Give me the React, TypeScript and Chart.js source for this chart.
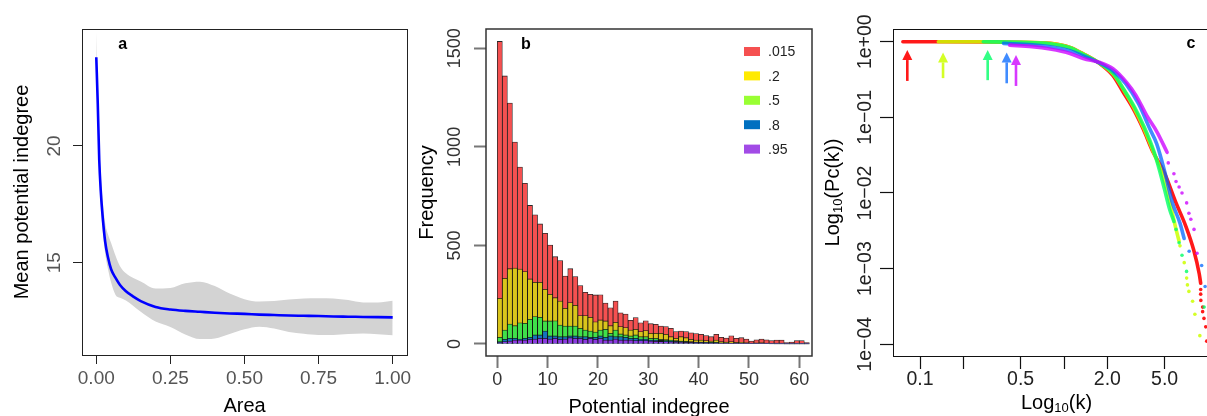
import React, { useEffect, useRef } from "react";
import { Chart, registerables } from "chart.js";

Chart.register(...registerables);

const FONT = "'Liberation Sans', Arial, Helvetica, sans-serif";
Chart.defaults.font.family = FONT;

// ---------- a: mean potential indegree against area ----------
const AREA_X = [0, 0.005, 0.01, 0.015, 0.02, 0.03, 0.04, 0.05, 0.065, 0.08, 0.1, 0.125, 0.15, 0.2, 0.25, 0.3, 0.35, 0.4, 0.45, 0.5, 0.55, 0.6, 0.65, 0.7, 0.75, 0.8, 0.85, 0.9, 0.95, 1.0];
const AREA_MEAN = [23.8, 21.8, 19.4, 18.1, 17.2, 15.9, 15.2, 14.72, 14.35, 14.05, 13.78, 13.55, 13.36, 13.11, 13.0, 12.94, 12.9, 12.86, 12.83, 12.81, 12.78, 12.76, 12.74, 12.73, 12.72, 12.7, 12.69, 12.68, 12.67, 12.66];
const AREA_UPPER = [24.9, 22.6, 20.1, 18.8, 17.9, 16.7, 16.2, 15.85, 15.3, 14.85, 14.55, 14.35, 14.2, 13.9, 13.92, 14.12, 14.19, 14.0, 13.68, 13.44, 13.34, 13.36, 13.43, 13.47, 13.48, 13.47, 13.4, 13.3, 13.3, 13.37];
const AREA_LOWER = [23.5, 21.1, 18.9, 17.5, 16.6, 15.4, 14.7, 14.15, 13.62, 13.5, 13.38, 13.15, 12.9, 12.48, 12.25, 11.93, 11.73, 11.76, 11.95, 12.15, 12.26, 12.18, 12.04, 11.96, 11.91, 11.91, 11.95, 11.97, 11.94, 11.9];
const AREA_X_TICKS = [0, 0.25, 0.5, 0.75, 1];
const AREA_Y_TICKS = [15, 20];

// ---------- b: histograms of potential indegree ----------
const INDEGREE_BINS = [0, 1, 2, 3, 4, 5, 6, 7, 8, 9, 10, 11, 12, 13, 14, 15, 16, 17, 18, 19, 20, 21, 22, 23, 24, 25, 26, 27, 28, 29, 30, 31, 32, 33, 34, 35, 36, 37, 38, 39, 40, 41, 42, 43, 44, 45, 46, 47, 48, 49, 50, 51, 52, 53, 54, 55, 56, 57, 58, 59, 60, 61];
const HIST_LABELS = [".015", ".2", ".5", ".8", ".95"];
const HIST_015 = [1535, 1360, 1222, 1024, 898, 815, 703, 655, 609, 562, 502, 443, 423, 345, 382, 342, 296, 262, 252, 249, 250, 208, 184, 218, 158, 152, 120, 134, 108, 118, 103, 100, 91, 88, 80, 63, 66, 63, 57, 53, 49, 43, 37, 49, 34, 30, 42, 29, 32, 25, 15, 21, 25, 21, 17, 20, 20, 7, 10, 17, 17, 7];
const HIST_02 = [232, 333, 382, 385, 380, 367, 330, 313, 313, 277, 252, 235, 218, 181, 210, 196, 144, 144, 135, 113, 122, 117, 93, 110, 88, 83, 71, 75, 63, 68, 54, 54, 54, 49, 37, 29, 37, 32, 24, 20, 20, 17, 15, 20, 12, 10, 12, 8, 9, 7, 5, 6, 7, 5, 4, 5, 5, 2, 3, 4, 4, 2];
const HIST_05 = [34, 71, 101, 93, 108, 105, 125, 139, 135, 117, 117, 118, 96, 91, 91, 91, 80, 71, 66, 61, 71, 75, 54, 71, 51, 46, 41, 46, 37, 37, 29, 29, 24, 22, 20, 17, 15, 14, 12, 10, 10, 9, 8, 8, 6, 6, 5, 5, 4, 4, 3, 3, 3, 2, 2, 2, 2, 1, 1, 1, 1, 1];
const HIST_08 = [12, 24, 29, 29, 25, 29, 34, 46, 46, 66, 41, 41, 37, 37, 41, 41, 37, 37, 34, 34, 41, 34, 41, 37, 37, 34, 29, 29, 25, 25, 20, 20, 18, 17, 15, 14, 12, 11, 10, 9, 8, 7, 6, 6, 5, 5, 4, 4, 3, 3, 3, 2, 2, 2, 2, 1, 1, 1, 1, 1, 1, 1];
const HIST_095 = [7, 12, 15, 20, 20, 20, 24, 25, 29, 29, 25, 29, 24, 25, 32, 29, 29, 24, 29, 24, 29, 20, 20, 25, 20, 20, 20, 17, 17, 17, 15, 14, 13, 12, 11, 10, 9, 8, 8, 7, 6, 6, 5, 5, 4, 4, 3, 3, 3, 2, 2, 2, 2, 2, 1, 1, 1, 1, 1, 1, 1, 1];
const HIST_SERIES = [HIST_015, HIST_02, HIST_05, HIST_08, HIST_095];
const HIST_BAR_COLORS = ["#F55050", "#D9C51B", "#3FE04A", "#1573BD", "#8C3AE0"];
const HIST_LEGEND_COLORS = ["#F55050", "#FFEA00", "#99FF33", "#0070C0", "#A24BE6"];
const HIST_X_TICKS = [0, 10, 20, 30, 40, 50, 60];
const HIST_Y_TICKS = [0, 500, 1000, 1500];

// ---------- c: cumulative distributions Pc(k), [k, Pc] ----------
const CCDF_015 = [[0.076, 1.0], [0.123, 1.0], [0.3, 0.995], [0.5, 0.98], [0.8, 0.95], [1.1, 0.84], [1.36, 0.69], [1.78, 0.51], [2.19, 0.356], [2.58, 0.214], [3.03, 0.129], [3.55, 0.07], [4.16, 0.0345], [4.95, 0.019], [6.0, 0.0074], [7.03, 0.0036], [7.96, 0.00176], [8.7, 0.00085], [8.9, 0.00064]];
const CCDF_015_TAIL = [[8.9, 0.00053], [8.9, 0.00046], [8.92, 0.00038], [9.18, 0.00031], [9.18, 0.00027], [9.38, 0.00022], [9.65, 0.00017], [9.8, 0.00011]];
const CCDF_02 = [[0.134, 1.0], [0.26, 1.0], [0.5, 0.985], [0.8, 0.95], [1.1, 0.84], [1.36, 0.69], [1.78, 0.515], [2.2, 0.37], [2.6, 0.23], [3.05, 0.135], [3.6, 0.07], [4.2, 0.034], [4.7, 0.0202], [5.17, 0.0109], [5.59, 0.006], [5.98, 0.0034], [6.3, 0.0023]];
const CCDF_02_TAIL = [[6.39, 0.002], [6.84, 0.0012], [7.11, 0.00075], [7.2, 0.00061], [7.37, 0.0005], [7.82, 0.00037], [8.11, 0.00025], [8.78, 0.00013]];
const CCDF_05 = [[0.275, 1.0], [0.5, 0.98], [0.8, 0.94], [1.1, 0.83], [1.36, 0.68], [1.78, 0.515], [2.2, 0.38], [2.6, 0.235], [3.1, 0.135], [3.6, 0.075], [4.2, 0.036], [4.6, 0.0202], [5.0, 0.011], [5.4, 0.0062], [5.8, 0.0042]];
const CCDF_05_TAIL = [[6.0, 0.0033], [6.3, 0.0022], [6.6, 0.0015], [7.1, 0.00092], [9.4, 0.00031]];
const CCDF_08 = [[0.38, 0.95], [0.6, 0.91], [0.8, 0.86], [1.1, 0.76], [1.36, 0.65], [1.78, 0.52], [2.2, 0.41], [2.7, 0.275], [3.3, 0.15], [3.95, 0.07], [4.4, 0.045], [4.97, 0.0202], [5.66, 0.0074], [6.39, 0.004], [6.83, 0.0025]];
const CCDF_08_TAIL = [[7.4, 0.0017], [9.04, 0.0011], [9.55, 0.00058]];
const CCDF_095 = [[0.42, 0.9], [0.6, 0.86], [0.8, 0.8], [1.1, 0.7], [1.36, 0.6], [1.78, 0.53], [2.19, 0.44], [2.72, 0.29], [3.17, 0.194], [3.76, 0.105], [4.43, 0.064], [5.2, 0.0345]];
const CCDF_095_TAIL = [[5.3, 0.025], [5.8, 0.018], [6.0, 0.0142], [6.3, 0.012], [6.6, 0.01], [7.11, 0.0074], [7.37, 0.0054], [7.6, 0.0045], [8.0, 0.0033], [8.4, 0.0016]];
const CCDF_BODIES = [CCDF_015, CCDF_02, CCDF_05, CCDF_08, CCDF_095];
const CCDF_TAILS = [CCDF_015_TAIL, CCDF_02_TAIL, CCDF_05_TAIL, CCDF_08_TAIL, CCDF_095_TAIL];
const CCDF_COLORS = ["rgba(255,0,0,0.9)", "rgba(204,255,0,0.85)", "rgba(0,255,102,0.8)", "rgba(0,102,255,0.75)", "rgba(204,0,255,0.78)"];
// smallest k of each series, marked by an arrow
const ARROW_K = [0.0816, 0.1445, 0.295, 0.4, 0.464];
const ARROW_TIP = [0.776, 0.72, 0.776, 0.72, 0.667];
const ARROW_BASE = [0.303, 0.33, 0.31, 0.282, 0.26];
const LOGK_TICKS = [0.1, 0.2, 0.5, 1, 2, 5];
const LOGK_TICK_LABELS = ["0.1", "", "0.5", "", "2.0", "5.0"];
const LOGP_TICKS = [1, 0.1, 0.01, 0.001, 0.0001];
const LOGP_TICK_LABELS = ["1e+00", "1e\u221201", "1e\u221202", "1e\u221203", "1e\u221204"];

// ---------- shared drawing helpers ----------
const frame = (color: string, width: number) => ({
  id: "frame",
  afterDraw(chart: any) {
    const { ctx, chartArea } = chart;
    const off = width === 1 ? 0.5 : 0;
    ctx.save();
    ctx.strokeStyle = color;
    ctx.lineWidth = width;
    ctx.strokeRect(
      Math.round(chartArea.left) + off,
      Math.round(chartArea.top) + off,
      Math.round(chartArea.right - chartArea.left),
      Math.round(chartArea.bottom - chartArea.top)
    );
    ctx.restore();
  },
});

const panelTag = (text: string, x: number, y: number) => ({
  id: "panelTag",
  afterDraw(chart: any) {
    const { ctx } = chart;
    ctx.save();
    ctx.font = `bold 16px ${FONT}`;
    ctx.fillStyle = "#000";
    ctx.textAlign = "center";
    ctx.textBaseline = "middle";
    ctx.fillText(text, x, y);
    ctx.restore();
  },
});

const fixedTicks = (values: number[]) => (scale: any) => {
  scale.ticks = values.map((value) => ({ value }));
};

const plainNumber = (v: any) => String(v);

function buildAreaChart() {
  const pts = (ys: number[]) => AREA_X.map((x, i) => ({ x, y: ys[i] }));
  return {
    type: "line",
    data: {
      datasets: [
        { data: pts(AREA_MEAN), borderColor: "#0000FF", borderWidth: 2.6, pointRadius: 0, fill: false, cubicInterpolationMode: "monotone" },
        { data: pts(AREA_UPPER), borderWidth: 0, borderColor: "rgba(0,0,0,0)", pointRadius: 0, fill: "+1", backgroundColor: "#D3D3D3", cubicInterpolationMode: "monotone" },
        { data: pts(AREA_LOWER), borderWidth: 0, borderColor: "rgba(0,0,0,0)", pointRadius: 0, fill: false, cubicInterpolationMode: "monotone" },
      ],
    },
    options: {
      animation: false,
      responsive: false,
      devicePixelRatio: 1,
      layout: { padding: { left: 0, top: 29, right: 23, bottom: 0 } },
      plugins: { legend: { display: false }, tooltip: { enabled: false } },
      scales: {
        x: {
          type: "linear",
          bounds: "data",
          min: -0.0482,
          max: 1.0483,
          afterBuildTicks: fixedTicks(AREA_X_TICKS),
          afterFit: (s: any) => { s.height = 61; },
          grid: { drawOnChartArea: false, tickLength: 9, tickColor: "#222", tickWidth: 1 },
          border: { display: false },
          ticks: { autoSkip: false, maxRotation: 0, padding: 3, color: "#555", font: { size: 19 }, callback: (v: any) => Number(v).toFixed(2) },
          title: { display: true, text: "Area", color: "#000", font: { size: 20, lineHeight: 1 }, padding: { top: 0, bottom: 0 } },
        },
        y: {
          type: "linear",
          bounds: "data",
          min: 11.05,
          max: 25.01,
          afterBuildTicks: fixedTicks(AREA_Y_TICKS),
          afterFit: (s: any) => { s.width = 82; },
          grid: { drawOnChartArea: false, tickLength: 9, tickColor: "#222", tickWidth: 1 },
          border: { display: false },
          ticks: { autoSkip: false, minRotation: 90, maxRotation: 90, crossAlign: "center", padding: 8, color: "#555", font: { size: 19 }, callback: plainNumber },
          title: { display: true, text: "Mean potential indegree", color: "#000", font: { size: 20 }, padding: { top: 10, bottom: 0 } },
        },
      },
    },
    plugins: [frame("#222", 1), panelTag("a", 122.7, 44.4)],
  };
}

const histLegend = {
  id: "histLegend",
  afterDraw(chart: any) {
    const { ctx } = chart;
    ctx.save();
    ctx.font = `14px ${FONT}`;
    ctx.textAlign = "left";
    ctx.textBaseline = "middle";
    HIST_LABELS.forEach((label, i) => {
      const y = 51.5 + i * 24.4;
      ctx.fillStyle = HIST_LEGEND_COLORS[i];
      ctx.fillRect(334, y - 4.5, 16, 9);
      ctx.fillStyle = "#222";
      ctx.fillText(label, 358, y + 1);
    });
    ctx.restore();
  },
};

function buildHistChart() {
  return {
    type: "bar",
    data: {
      datasets: HIST_SERIES.map((vals, i) => ({
        label: HIST_LABELS[i],
        data: INDEGREE_BINS.map((b, j) => ({ x: b + 0.5, y: vals[j] })),
        backgroundColor: HIST_BAR_COLORS[i],
        borderColor: "rgba(15,15,15,0.9)",
        borderWidth: 0.8,
        barPercentage: 1,
        categoryPercentage: 1,
        grouped: false,
        order: HIST_SERIES.length - 1 - i,
      })),
    },
    options: {
      animation: false,
      responsive: false,
      devicePixelRatio: 1,
      layout: { padding: { left: 0, top: 29, right: 8, bottom: 0 } },
      plugins: { legend: { display: false }, tooltip: { enabled: false } },
      scales: {
        x: {
          type: "linear",
          bounds: "data",
          offset: false,
          min: -2.245,
          max: 62.53,
          afterBuildTicks: fixedTicks(HIST_X_TICKS),
          afterFit: (s: any) => { s.height = 60; },
          grid: { offset: false, drawOnChartArea: false, tickLength: 12, tickColor: "#777", tickWidth: 2 },
          border: { display: false },
          ticks: { autoSkip: false, maxRotation: 0, padding: 1.2, color: "#333", font: { size: 18 }, callback: plainNumber },
          title: { display: true, text: "Potential indegree", color: "#000", font: { size: 20, lineHeight: 1 }, padding: { top: 0, bottom: -1 } },
        },
        y: {
          type: "linear",
          bounds: "data",
          min: -60.9,
          max: 1598,
          afterBuildTicks: fixedTicks(HIST_Y_TICKS),
          afterFit: (s: any) => { s.width = 76; },
          grid: { drawOnChartArea: false, tickLength: 12, tickColor: "#777", tickWidth: 2 },
          border: { display: false },
          ticks: { autoSkip: false, minRotation: 90, maxRotation: 90, crossAlign: "center", padding: -1, color: "#333", font: { size: 18 }, callback: plainNumber },
          title: { display: true, text: "Frequency", color: "#000", font: { size: 20 }, padding: { top: 5, bottom: 0 } },
        },
      },
    },
    plugins: [frame("#333", 1.5), panelTag("b", 116, 45), histLegend],
  };
}

// "Log" + subscript "10" + rest, centred on (cx, baseline)
function drawLogTitle(ctx: any, rest: string, cx: number, baseline: number, vertical: boolean) {
  ctx.save();
  ctx.translate(cx, baseline);
  if (vertical) ctx.rotate(-Math.PI / 2);
  ctx.fillStyle = "#000";
  ctx.textAlign = "left";
  ctx.textBaseline = "alphabetic";
  const main = `20px ${FONT}`;
  const small = `13px ${FONT}`;
  ctx.font = main;
  const w1 = ctx.measureText("Log").width;
  const w3 = ctx.measureText(rest).width;
  ctx.font = small;
  const w2 = ctx.measureText("10").width;
  const x0 = -(w1 + w2 + w3) / 2;
  ctx.font = main;
  ctx.fillText("Log", x0, 0);
  ctx.font = small;
  ctx.fillText("10", x0 + w1, 3);
  ctx.font = main;
  ctx.fillText(rest, x0 + w1 + w2, 0);
  ctx.restore();
}

const ccdfTitles = {
  id: "ccdfTitles",
  afterDraw(chart: any) {
    const { ctx, chartArea } = chart;
    drawLogTitle(ctx, "(k)", (chartArea.left + chartArea.right) / 2, 409.3, false);
    drawLogTitle(ctx, "(Pc(k))", 19.1, (chartArea.top + chartArea.bottom) / 2, true);
  },
};

const ccdfArrows = {
  id: "ccdfArrows",
  afterDatasetsDraw(chart: any) {
    const { ctx, scales } = chart;
    ctx.save();
    ARROW_K.forEach((k, i) => {
      const px = scales.x.getPixelForValue(k);
      const tip = scales.y.getPixelForValue(ARROW_TIP[i]);
      const base = scales.y.getPixelForValue(ARROW_BASE[i]);
      const head = 10;
      ctx.strokeStyle = CCDF_COLORS[i];
      ctx.fillStyle = CCDF_COLORS[i];
      ctx.lineWidth = 2.6;
      ctx.beginPath();
      ctx.moveTo(px, base);
      ctx.lineTo(px, tip + head);
      ctx.stroke();
      ctx.beginPath();
      ctx.moveTo(px, tip);
      ctx.lineTo(px - 5, tip + head);
      ctx.lineTo(px + 5, tip + head);
      ctx.closePath();
      ctx.fill();
    });
    ctx.restore();
  },
};

function buildCcdfChart() {
  const datasets: any[] = [];
  CCDF_BODIES.forEach((body, i) => {
    const order = 10 - i * 2;
    datasets.push({
      data: body.map(([x, y]) => ({ x, y })),
      showLine: true,
      borderColor: CCDF_COLORS[i],
      borderWidth: 3.6,
      borderCapStyle: "round",
      borderJoinStyle: "round",
      pointRadius: 0,
      cubicInterpolationMode: "monotone",
      order,
    });
    datasets.push({
      data: CCDF_TAILS[i].map(([x, y]) => ({ x, y })),
      showLine: false,
      pointRadius: 1.8,
      pointBorderWidth: 0,
      pointBackgroundColor: CCDF_COLORS[i],
      order,
    });
  });
  return {
    type: "scatter",
    data: { datasets },
    options: {
      animation: false,
      responsive: false,
      devicePixelRatio: 1,
      layout: { padding: { left: 0, top: 29, right: 20, bottom: 0 } },
      plugins: { legend: { display: false }, tooltip: { enabled: false } },
      scales: {
        x: {
          type: "logarithmic",
          bounds: "data",
          min: 0.0649,
          max: 12.12,
          afterBuildTicks: fixedTicks(LOGK_TICKS),
          afterFit: (s: any) => { s.height = 60; },
          grid: { drawOnChartArea: false, tickLength: 13, tickColor: "#111", tickWidth: 1.2 },
          border: { display: false },
          ticks: { autoSkip: false, maxRotation: 0, padding: -0.7, color: "#222", font: { size: 19.5 }, callback: (_v: any, i: number) => LOGK_TICK_LABELS[i] },
        },
        y: {
          type: "logarithmic",
          bounds: "data",
          min: 0.00007,
          max: 1.472,
          afterBuildTicks: fixedTicks(LOGP_TICKS),
          afterFit: (s: any) => { s.width = 73; },
          grid: { drawOnChartArea: false, tickLength: 13, tickColor: "#111", tickWidth: 1.2 },
          border: { display: false },
          ticks: { autoSkip: false, minRotation: 90, maxRotation: 90, crossAlign: "center", padding: -13.4, color: "#222", font: { size: 19.5 }, callback: (_v: any, i: number) => LOGP_TICK_LABELS[i] },
        },
      },
    },
    plugins: [frame("#111", 1), panelTag("c", 371, 43.3), ccdfArrows, ccdfTitles],
  };
}

type PanelProps = { left: number; width: number; build: () => any };

function ChartPanel({ left, width, build }: PanelProps) {
  const ref = useRef<HTMLCanvasElement | null>(null);
  useEffect(() => {
    if (!ref.current) return;
    const chart = new Chart(ref.current, build());
    return () => chart.destroy();
  }, [build]);
  return (
    <canvas
      ref={ref}
      width={width}
      height={416}
      style={{ position: "absolute", left, top: 0, width, height: 416 }}
    />
  );
}

export default function App() {
  return (
    <div style={{ position: "fixed", left: 0, top: 0, width: 1207, height: 416, overflow: "hidden", background: "#fff" }}>
      <ChartPanel left={0} width={430} build={buildAreaChart} />
      <ChartPanel left={410} width={410} build={buildHistChart} />
      <ChartPanel left={820} width={420} build={buildCcdfChart} />
    </div>
  );
}
